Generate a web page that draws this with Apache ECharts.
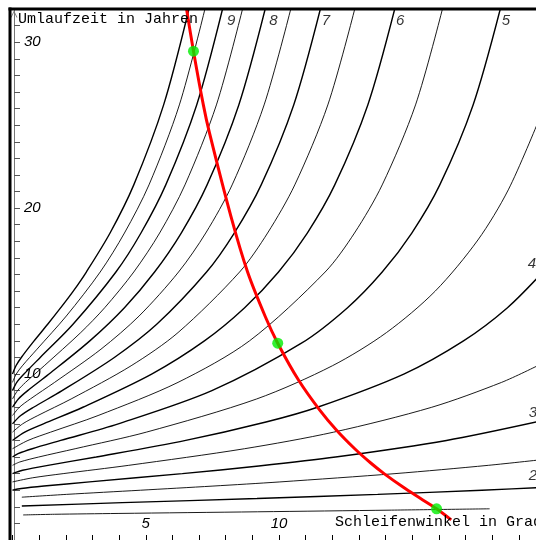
<!DOCTYPE html>
<html><head><meta charset="utf-8">
<script src="https://cdn.jsdelivr.net/npm/echarts@6/dist/echarts.min.js"></script>
<style>html,body{margin:0;padding:0;background:#fff}#c{width:536px;height:540px}</style>
</head><body><div id="c"></div>
<script>
// axis settings
const xMin = 0, xMax = 19.64, xStep = 1;
const yMin = 0, yMax = 32, yStep = 1;
const xTickLabels = [5, 10];
const yTickLabels = [10, 20, 30];
const xTitle = 'Schleifenwinkel in Grad';
const yTitle = 'Umlaufzeit in Jahren';

// black curves, one per distance label: points [loop angle (deg), period (years)]
const d1_5 = [[0.4,1.51],[1.57,1.55],[3.96,1.6],[9.20,1.7],[14.22,1.8],[17.90,1.88]];
const d2   = [[0.35,2.05],[4.12,2.25],[9.17,2.5],[13.70,2.75],[17.61,3],[20.21,3.19]];
const d2_5 = [[0.35,2.58],[2.03,2.75],[4.80,3],[7.52,3.25],[10.03,3.5],[14.35,4],[17.85,4.5],[20.07,4.88]];
const d3   = [[0,3],[0.33,3.1],[1.18,3.25],[2.89,3.5],[6.37,4],[9.24,4.46],[12.12,5],[16.28,6],[19.81,7.17]];
const d3_5 = [[0,3.5],[0.76,3.75],[1.90,4],[4.36,4.5],[8.70,5.5],[12.05,6.5],[15.73,8],[18.35,9.5],[19.76,10.55]];
const d4   = [[0,4],[0.38,4.2],[1.33,4.5],[3.14,5],[6.50,6],[9.51,7.11],[11.44,8],[14.68,10],[16.92,12],[18.57,14],[19.90,16.15]];
const d4_5 = [[0,4.5],[0.27,4.7],[0.98,5],[2.35,5.5],[5.02,6.5],[9.16,8.5],[12.00,10.5],[14.03,12.5],[15.86,15],[17.46,18.08],[18.60,21.1],[19.72,25.2]];
const d5   = [[0,5],[0.21,5.2],[0.74,5.5],[1.81,6],[3.97,7],[7.48,9],[10.84,11.86],[12.57,14],[13.87,16.15],[14.98,18.5],[16.03,21.4],[17.28,26.22],[18.30,32]];
const d5_5 = [[0,5.5],[0.58,6],[1.43,6.5],[3.21,7.5],[6.21,9.5],[8.89,12],[11.73,16.15],[12.83,18.5],[13.87,21.4],[15.12,26.22],[16.13,32]];
const d6   = [[0,6],[0.46,6.5],[1.16,7],[2.64,8],[5.22,10],[7.20,12],[8.71,14],[9.98,16.15],[11.06,18.5],[12.09,21.4],[13.33,26.22],[14.34,32]];
const d6_5 = [[0,6.5],[0.38,7],[0.95,7.5],[2.20,8.5],[4.45,10.5],[6.21,12.5],[8.52,16.15],[9.57,18.5],[10.59,21.4],[11.83,26.22],[12.84,32]];
const d7   = [[0,7],[0.31,7.5],[0.79,8],[1.86,9],[3.82,11],[5.41,13],[7.28,16.15],[8.32,18.5],[9.33,21.4],[10.55,26.22],[11.55,32]];
const d7_5 = [[0,7.5],[0.26,8],[0.67,8.5],[1.58,9.5],[3.32,11.5],[4.75,13.5],[6.23,16.15],[7.25,18.5],[8.24,21.4],[9.44,26.22],[10.44,32]];
const d8   = [[0,8],[0.22,8.5],[0.57,9],[1.37,10],[2.90,12],[4.20,14],[5.33,16.15],[6.33,18.5],[7.30,21.4],[8.49,26.22],[9.48,32]];
const d8_5 = [[0,8.5],[0.19,9],[0.49,9.5],[1.19,10.5],[2.56,12.5],[3.46,14],[4.55,16.15],[5.52,18.5],[6.47,21.4],[7.65,26.22],[8.63,32]];
const d9   = [[0,9],[0.16,9.5],[0.43,10],[1.04,11],[2.27,13],[3.88,16.15],[4.82,18.5],[5.75,21.4],[6.91,26.22],[7.88,32]];
const d9_5 = [[0,9.5],[0.14,10],[0.37,10.5],[0.92,11.5],[2.02,13.5],[3.29,16.15],[4.20,18.5],[5.12,21.4],[6.26,26.22],[7.22,32]];
const d10  = [[0,10],[0.13,10.5],[0.33,11],[0.81,12],[1.32,13],[1.81,14],[2.28,15],[2.77,16.15],[3.66,18.5],[4.55,21.4],[5.67,26.22],[6.62,32]];

const curveNames = ['1.5','2','2.5','3','3.5','4','4.5','5','5.5','6','6.5','7','7.5','8','8.5','9','9.5','10'];
const curveData  = [d1_5,d2,d2_5,d3,d3_5,d4,d4_5,d5,d5_5,d6,d6_5,d7,d7_5,d8,d8_5,d9,d9_5,d10];

// red curve (circular orbits)
const redCurve = [[6.53,32.0],[6.79,29.46],[7.16,26.22],[7.39,24.53],[8.20,19.47],[8.82,16.15],[9.49,13.44],[9.95,11.86],[10.73,9.64],[11.52,7.84],[12.15,6.63],[12.84,5.5],[13.44,4.64],[13.94,4],[14.65,3.19],[15.31,2.5],[15.91,1.88],[16.46,1.21]];

// planets (green points)
const planetNames = ['Saturn','Jupiter','Mars'];
const planetAngle = [6.79, 9.95, 15.91];
const planetPeriod = [29.46, 11.86, 1.88];

// curve labels
const labelText = ['9','8','7','6','5','4','3','2'];
const labelX = [8.20, 9.79, 11.76, 14.54, 18.51, 19.49, 19.52, 19.52];
const labelY = [31.31, 31.31, 31.31, 31.31, 31.31, 16.64, 7.66, 3.86];

const chart = echarts.init(document.getElementById('c'), null, {renderer: 'canvas'});

const numFont = {fontFamily: 'Liberation Sans', fontStyle: 'italic', fontSize: 15, color: '#000'};

const series = [];
curveData.forEach((d, i) => {
  const integer = Number(curveNames[i]) % 1 === 0;
  series.push({
    name: curveNames[i], type: 'line', data: d, showSymbol: false, smooth: 0.3,
    lineStyle: {color: '#000', width: integer ? 1.4 : 0.9}, silent: true, z: 2
  });
});
series.push({
  name: 'Kreisbahnen', type: 'line', data: redCurve, showSymbol: false, smooth: 0.3,
  lineStyle: {color: '#ff0000', width: 3}, z: 4
});
series.push({
  name: 'Planeten', type: 'scatter', symbolSize: 11, z: 5,
  itemStyle: {color: '#00ee00'},
  data: planetNames.map((n, i) => ({name: n, value: [planetAngle[i], planetPeriod[i]]}))
});
series.push({
  name: 'Beschriftung', type: 'scatter', symbolSize: 0, z: 6, silent: true,
  label: Object.assign({show: true, position: 'inside', formatter: p => p.name}, numFont),
  data: labelText.map((t, i) => ({name: t, value: [labelX[i], labelY[i]]}))
});

chart.setOption({
  animation: false,
  backgroundColor: '#fff',
  grid: {left: 12.5, right: 0, top: 9, bottom: 0, containLabel: false},
  xAxis: {
    type: 'value', min: xMin, max: xMax, interval: xStep,
    axisLine: {show: false},
    axisTick: {show: true, inside: true, length: 5, lineStyle: {color: '#000', width: 1}},
    axisLabel: Object.assign({inside: true, margin: 9, showMaxLabel: false, formatter: v => xTickLabels.includes(v) ? String(v) : ''}, numFont),
    splitLine: {show: false}
  },
  yAxis: {
    type: 'value', min: yMin, max: yMax, interval: yStep, offset: -1.5,
    axisLine: {show: true, lineStyle: {color: '#777', width: 1}, symbol: ['none', 'path://M0,10 L5,0 L10,10 L8.6,10 L5,2.6 L1.4,10 Z'], symbolSize: [8, 7], symbolOffset: [0, -5]},
    axisTick: {show: true, inside: true, length: 6, lineStyle: {color: '#555', width: 1}},
    axisLabel: Object.assign({inside: true, margin: 10, formatter: v => yTickLabels.includes(v) ? String(v) : ''}, numFont),
    splitLine: {show: false}
  },
  graphic: [
    {type: 'line', shape: {x1: 10, y1: 7.5, x2: 10, y2: 540}, style: {stroke: '#000', lineWidth: 3}, z: 100},
    {type: 'line', shape: {x1: 8.5, y1: 9, x2: 536, y2: 9}, style: {stroke: '#000', lineWidth: 3}, z: 100},
    {type: 'text', left: 18, top: 12, style: {text: yTitle, font: '15px "Liberation Mono"', fill: '#000'}, z: 100},
    {type: 'text', left: 335, top: 515, style: {text: xTitle, font: '15px "Liberation Mono"', fill: '#000'}, z: 100}
  ],
  series: series
});
</script></body></html>
